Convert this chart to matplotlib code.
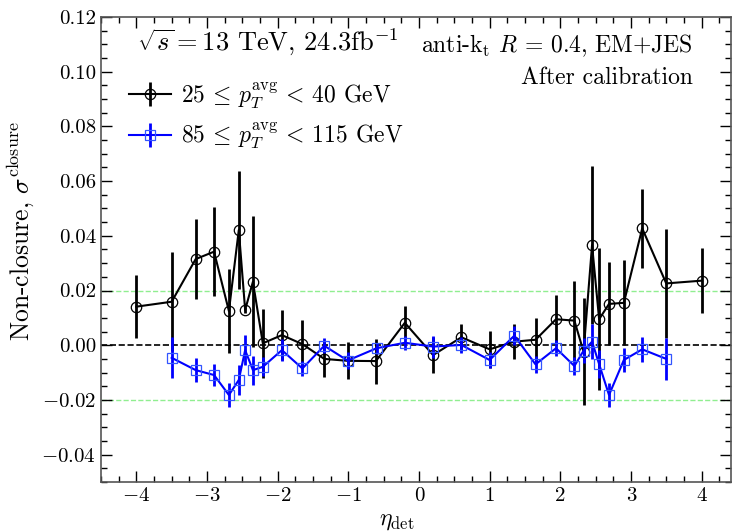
import matplotlib
matplotlib.use("Agg")
import matplotlib.pyplot as plt
from matplotlib.ticker import MultipleLocator

plt.rcParams['font.family'] = 'serif'
plt.rcParams['font.serif'] = ['cmr10']
plt.rcParams['mathtext.fontset'] = 'cm'
plt.rcParams['axes.formatter.use_mathtext'] = True

# Black series: 25 <= pT < 40 GeV
eta_low = [-4.0, -3.5, -3.16, -2.9, -2.69, -2.55, -2.46, -2.35, -2.21, -1.94,
           -1.65, -1.34, -1.01, -0.61, -0.2, 0.2, 0.6, 1.0, 1.35, 1.65,
           1.94, 2.2, 2.33, 2.45, 2.55, 2.69, 2.9, 3.16, 3.5, 4.0]
val_low = [0.0141, 0.0159, 0.0315, 0.0342, 0.0125, 0.0421, 0.0129, 0.0232, 0.0007, 0.0037,
           0.0004, -0.0050, -0.0057, -0.0058, 0.0082, -0.0036, 0.0029, -0.0015, 0.0013, 0.0020,
           0.0095, 0.0090, -0.0024, 0.0366, 0.0095, 0.0151, 0.0155, 0.0427, 0.0226, 0.0236]
err_low = [0.0116, 0.0180, 0.0147, 0.0163, 0.0155, 0.0217, 0.0010, 0.0240, 0.0125, 0.0090,
           0.0087, 0.0067, 0.0067, 0.0082, 0.0060, 0.0065, 0.0050, 0.0068, 0.0064, 0.0080,
           0.0090, 0.0146, 0.0195, 0.0290, 0.0260, 0.0152, 0.0155, 0.0144, 0.0200, 0.0118]

# Blue series: 85 <= pT < 115 GeV
eta_high = [-3.5, -3.16, -2.9, -2.69, -2.55, -2.46, -2.35, -2.21, -1.94, -1.65,
            -1.34, -1.01, -0.6, -0.2, 0.2, 0.6, 1.0, 1.35, 1.65, 1.94,
            2.2, 2.33, 2.45, 2.55, 2.69, 2.9, 3.16, 3.5]
val_high = [-0.0046, -0.0091, -0.0109, -0.0182, -0.0127, -0.0018, -0.0091, -0.0079, -0.0018, -0.0085,
            -0.0002, -0.0056, -0.0011, 0.0009, -0.0005, 0.0001, -0.0054, 0.0035, -0.0070, -0.0011,
            -0.0076, -0.0020, 0.0013, -0.0069, -0.0182, -0.0054, -0.0015, -0.0050]
err_high = [0.0075, 0.0043, 0.0040, 0.0043, 0.0055, 0.0054, 0.0053, 0.0035, 0.0040, 0.0028,
            0.0027, 0.0030, 0.0020, 0.0025, 0.0040, 0.0030, 0.0030, 0.0034, 0.0030, 0.0030,
            0.0034, 0.0045, 0.0064, 0.0052, 0.0043, 0.0043, 0.0045, 0.0076]

label_low = r'$25 \,\leq\, p_T^{\mathrm{avg}} \,<\, 40$ GeV'
label_high = r'$85 \,\leq\, p_T^{\mathrm{avg}} \,<\, 115$ GeV'

fig = plt.figure(figsize=(7.32, 5.31), dpi=100)
ax = fig.add_axes([0.138, 0.0923, 0.860, 0.8757])

ax.axhline(0.0, color='black', ls='--', lw=1.2, zorder=1)
ax.axhline(0.02, color='#90ee90', ls='--', lw=1.0, zorder=1)
ax.axhline(-0.02, color='#90ee90', ls='--', lw=1.0, zorder=1)

ax.errorbar(eta_low, val_low, yerr=err_low, color='black', marker='o', ms=7.5,
            mfc='none', mec='black', mew=0.9, lw=1.5, elinewidth=2.0, capsize=0,
            label=label_low, zorder=3)
ax.errorbar(eta_high, val_high, yerr=err_high, color='blue', marker='s', ms=7,
            mfc='none', mec='#3355ff', mew=0.9, lw=1.5, elinewidth=2.0, capsize=0,
            label=label_high, zorder=4)

ax.set_xlim(-4.5, 4.41)
ax.set_ylim(-0.05, 0.12)
ax.xaxis.set_major_locator(MultipleLocator(1))
ax.xaxis.set_minor_locator(MultipleLocator(0.25))
ax.yaxis.set_major_locator(MultipleLocator(0.02))
ax.yaxis.set_minor_locator(MultipleLocator(0.005))
ax.tick_params(which='both', direction='in', top=True, right=True, labelsize=15)
ax.tick_params(which='major', length=8, width=1.0)
ax.tick_params(which='minor', length=4, width=1.0)
ax.yaxis.set_major_formatter(matplotlib.ticker.FuncFormatter(
    lambda v, p: ('$-$' if v < -1e-9 else '') + '%.2f' % abs(v)))
ax.xaxis.set_major_formatter(matplotlib.ticker.FuncFormatter(
    lambda v, p: ('$-$' if v < -1e-9 else '') + '%d' % abs(round(v))))
for s in ax.spines.values():
    s.set_color('#555555')
    s.set_linewidth(1.2)

ax.set_xlabel(r'$\eta_{\mathrm{det}}$', fontsize=17)
ax.xaxis.set_label_coords(0.47, -0.06)
ax.set_ylabel(r'Non-closure, $\sigma^{\mathrm{closure}}$', fontsize=18.5)
ax.yaxis.set_label_coords(-0.103, 0.54)

ax.text(0.057, 0.978, r'$\sqrt{s}=13$ TeV, 24.3fb$^{-1}$', transform=ax.transAxes,
        fontsize=19, ha='left', va='top')
ax.text(0.94, 0.966, r'anti-k$_{\mathrm{t}}$ $R\,=\,0.4$, EM+JES', transform=ax.transAxes,
        fontsize=17, ha='right', va='top')
ax.text(0.94, 0.893, 'After calibration', transform=ax.transAxes,
        fontsize=17, ha='right', va='top')

leg = ax.legend(loc='upper left', bbox_to_anchor=(0.044, 0.864), frameon=False,
                fontsize=17, handlelength=1.8, handletextpad=0.4, labelspacing=0.42,
                borderpad=0.0, borderaxespad=0.0)

fig.savefig('out.png', dpi=100)
